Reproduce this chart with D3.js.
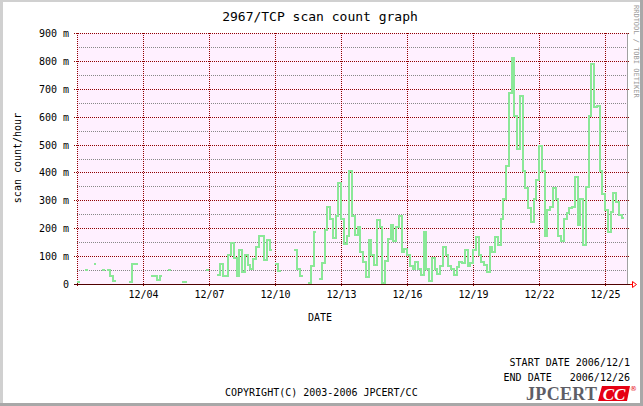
<!DOCTYPE html>
<meta charset="utf-8">
<script src="https://cdn.jsdelivr.net/npm/d3@7/dist/d3.min.js"></script>
<style>
    body { margin: 0; background: #fff; }
    text { font-family: "DejaVu Sans Mono", monospace; }
</style>

<div style='position: absolute; width: 643px; height: 406px; top: 0px; left: 0px;' id="js_chart"></div>

<script>
// ******************************************
// data (scan count per hour, in milli units, 3 hour steps from 2006/12/01 00:00)
// ******************************************
const chartTitle = "2967/TCP scan count graph";
const stepHours = 3;
const scanCount = [
    5, null, null, 48, null, null, 69, null,      // 12/01
    null, 48, null, 48, 25, 8, null, null,        // 12/02
    null, null, null, 5, 69, 69, null, null,      // 12/03
    null, null, null, 24, 24, 10, 24, null,       // 12/04
    null, 48, null, null, null, null, 2, 2,       // 12/05
    null, null, null, null, null, null, null, 48, // 12/06
    null, null, null, 30, 69, 24, 24, 100,        // 12/07
    145, 90, 24, 120, 40, 100, 65, 50,            // 12/08
    87, 130, 167, 167, 84, 155, 120, null,        // 12/09
    68, 44, null, null, null, null, null, 120,    // 12/10
    50, 24, null, null, 0, 60, 182, null,         // 12/11
    15, 70, 190, 273, 231, 160, 240, 360,         // 12/12
    231, 141, 170, 400, 240, 173, 200, 111,       // 12/13
    75, 20, 153, 100, 63, 225, 200, 0,            // 12/14
    80, 159, 207, 150, 200, 240, 111, 123,        // 12/15
    99, 60, 50, 75, 50, 27, 183, 50,              // 12/16
    8, 90, 50, 33, 60, 130, 100, 60,              // 12/17
    50, 28, 58, 76, 70, 118, 60, 70,              // 12/18
    120, 166, 102, 76, 66, 40, 130, 112,          // 12/19
    166, 136, 230, 300, 420, 680, 805, 600,       // 12/20
    480, 670, 400, 340, 268, 220, 300, 370,       // 12/21
    490, 400, 170, 262, 274, 340, 300, 170,       // 12/22
    150, 230, 250, 270, 274, 380, 208, 300,       // 12/23
    136, 346, 600, 785, 630, 635, 400, 320,       // 12/24
    260, 184, 256, 322, 290, 244, 232, null       // 12/25
];
const xTickLabels = ["12/04", "12/07", "12/10", "12/13", "12/16", "12/19", "12/22", "12/25"];
const yMajorTicks = [0, 100, 200, 300, 400, 500, 600, 700, 800, 900];
const yMinorTicks = [50, 150, 250, 350, 450, 550, 650, 750, 850];
const footerLines = ["START DATE 2006/12/1", "END DATE   2006/12/26"];
const copyright = "COPYRIGHT(C) 2003-2006 JPCERT/CC";

createPlot();

function createPlot() {
    // ******************************************************
    // Settings
    // ******************************************************
    let width = 643, height = 406;
    let plot = {left: 77, right: 627, top: 33, bottom: 284};
    let t0 = Date.UTC(2006, 11, 1), t1 = Date.UTC(2006, 11, 26);
    let stepMs = stepHours * 3600 * 1000;

    let x = d3.scaleUtc().domain([new Date(t0), new Date(t1)]).range([plot.left, plot.right]);
    let y = d3.scaleLinear().domain([0, 900]).range([plot.bottom, plot.top]);

    let tickDates = xTickLabels.map(function (s) {
        let p = s.split("/");
        return new Date(Date.UTC(2006, +p[0] - 1, +p[1]));
    });

    // step points: every value covers its own interval
    let pts = [];
    scanCount.forEach(function (v, i) {
        if (v === null) { pts.push({t: null, v: null}); return; }
        pts.push({t: t0 + i * stepMs, v: v});
        pts.push({t: t0 + (i + 1) * stepMs, v: v});
    });

    let svg = d3.select("#js_chart").append("svg")
        .attr("width", width).attr("height", height);

    // frame
    svg.append("rect").attr("x", 0).attr("y", 0).attr("width", width).attr("height", height).attr("fill", "#a8a8a8");
    svg.append("rect").attr("x", 0).attr("y", 0).attr("width", width - 3).attr("height", height - 3).attr("fill", "#d0d0d0");
    svg.append("rect").attr("x", 3).attr("y", 2).attr("width", width - 6).attr("height", height - 5).attr("fill", "#ffffff");

    // plot background
    svg.append("rect")
        .attr("x", plot.left).attr("y", plot.top)
        .attr("width", plot.right - plot.left).attr("height", plot.bottom - plot.top)
        .attr("fill", "#fff0ff");

    let grid = svg.append("g").attr("shape-rendering", "crispEdges");

    grid.selectAll(".minor").data(yMinorTicks).enter().append("line")
        .attr("x1", plot.left).attr("x2", plot.right)
        .attr("y1", function (d) { return Math.round(y(d)) + 0.5; })
        .attr("y2", function (d) { return Math.round(y(d)) + 0.5; })
        .attr("stroke", "#888").attr("stroke-dasharray", "1,1");

    grid.selectAll(".major").data(yMajorTicks).enter().append("line")
        .attr("x1", plot.left - 3).attr("x2", plot.right + 3)
        .attr("y1", function (d) { return Math.round(y(d)) + 0.5; })
        .attr("y2", function (d) { return Math.round(y(d)) + 0.5; })
        .attr("stroke", "#900000").attr("stroke-dasharray", "1,1");

    grid.selectAll(".vmajor").data([new Date(t0)].concat(tickDates)).enter().append("line")
        .attr("x1", function (d) { return Math.round(x(d)) + 0.5; })
        .attr("x2", function (d) { return Math.round(x(d)) + 0.5; })
        .attr("y1", plot.top).attr("y2", plot.bottom + 3)
        .attr("stroke", "#900000").attr("stroke-dasharray", "1,1");

    // right border
    grid.append("line")
        .attr("x1", plot.right + 0.5).attr("x2", plot.right + 0.5)
        .attr("y1", plot.top).attr("y2", plot.bottom)
        .attr("stroke", "#a0a0a0");

    // data line
    let line = d3.line()
        .defined(function (d) { return d.v !== null; })
        .x(function (d) { return x(new Date(d.t)); })
        .y(function (d) { return y(d.v) - 1; });

    svg.append("path")
        .datum(pts)
        .attr("d", line)
        .attr("fill", "none")
        .attr("stroke", "#8be898")
        .attr("stroke-width", 2)
        .attr("stroke-linejoin", "miter")
        .attr("shape-rendering", "crispEdges");

    // x axis line + arrow
    grid.append("line")
        .attr("x1", plot.left - 3).attr("x2", plot.right + 3)
        .attr("y1", plot.bottom + 0.5).attr("y2", plot.bottom + 0.5)
        .attr("stroke", "#500000");
    svg.append("path")
        .attr("d", "M" + (plot.right + 3) + "," + (plot.bottom + 0.5) + "h3 M" + (plot.right + 5.5) + "," + (plot.bottom - 2.5) + "v6 l4,-3 z")
        .attr("fill", "none").attr("stroke", "#ff0000").attr("stroke-width", 1);

    // x labels
    let xAxis = svg.append("g")
        .attr("transform", "translate(0," + plot.bottom + ")")
        .call(d3.axisBottom(x).tickValues(tickDates).tickSize(0).tickPadding(14)
            .tickFormat(function (d, i) { return xTickLabels[i]; }));
    xAxis.select(".domain").remove();
    xAxis.selectAll("text").attr("font-family", "DejaVu Sans Mono").attr("font-size", 10).attr("fill", "#000")
        .attr("dy", 0).attr("y", 14);

    // y labels
    let yAxis = svg.append("g")
        .attr("transform", "translate(" + 69 + ",0)")
        .call(d3.axisLeft(y).tickValues(yMajorTicks).tickSize(0).tickPadding(0)
            .tickFormat(function (d) { return d === 0 ? "0" : d + " m"; }));
    yAxis.select(".domain").remove();
    yAxis.selectAll("text").attr("font-family", "DejaVu Sans Mono").attr("font-size", 10).attr("fill", "#000")
        .attr("dy", "0.35em");

    // titles
    svg.append("text").attr("x", 320).attr("y", 21).attr("text-anchor", "middle")
        .attr("font-size", 13).text(chartTitle);

    svg.append("text").attr("transform", "translate(21,158) rotate(-90)").attr("text-anchor", "middle")
        .attr("font-size", 10).text("scan count/hour");

    svg.append("text").attr("x", 320).attr("y", 321).attr("text-anchor", "middle")
        .attr("font-size", 10).text("DATE");

    svg.append("text").attr("transform", "translate(634,5) rotate(90)")
        .attr("font-size", 7).attr("fill", "#999").text("RRDTOOL / TOBI OETIKER");

    svg.selectAll(".foot").data(footerLines).enter().append("text")
        .attr("x", 630).attr("y", function (d, i) { return 366 + i * 15; })
        .attr("text-anchor", "end").attr("font-size", 10)
        .attr("xml:space", "preserve").style("white-space", "pre")
        .text(function (d) { return d; });

    svg.append("text").attr("x", 225).attr("y", 396).attr("font-size", 10).text(copyright);

    // logo
    let logo = svg.append("g");
    logo.append("text").attr("x", 526).attr("y", 400)
        .style("font-family", "'Liberation Serif', serif").attr("font-weight", "bold")
        .attr("font-size", 18).attr("textLength", 71).attr("fill", "#5e5e66").text("JPCERT");
    logo.append("path").attr("d", "M602,386 L630,386 L627,401 L598,401 Z").attr("fill", "#e60012");
    logo.append("text").attr("x", 614).attr("y", 399.5).attr("text-anchor", "middle")
        .style("font-family", "'Liberation Serif', serif").attr("font-weight", "bold").attr("font-style", "italic")
        .attr("font-size", 17).attr("fill", "#fff").text("CC");
    logo.append("text").attr("x", 630).attr("y", 391)
        .style("font-family", "'DejaVu Sans', sans-serif").attr("font-size", 7).attr("fill", "#e60012").text("®");
}
</script>
